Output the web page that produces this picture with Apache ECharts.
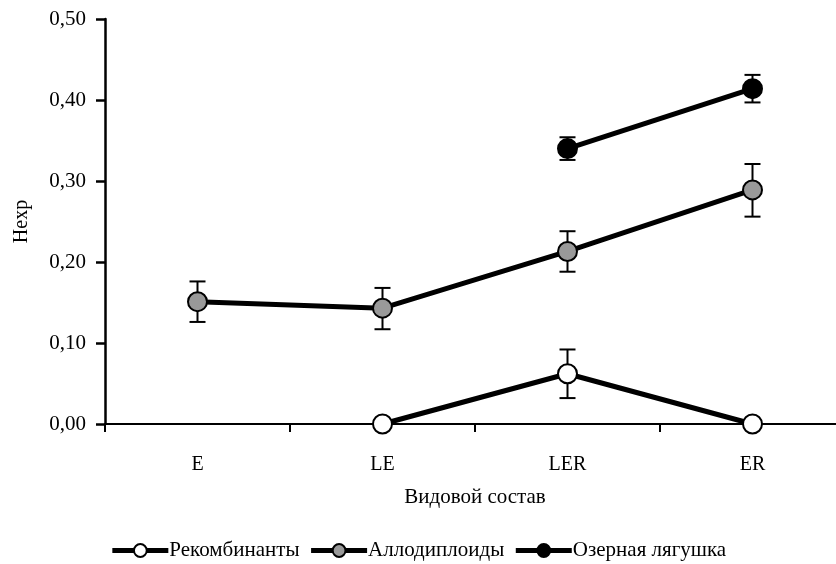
<!DOCTYPE html>
<html>
<head>
<meta charset="utf-8">
<script src="https://cdn.jsdelivr.net/npm/echarts@6/dist/echarts.min.js"></script>
<style>html,body{margin:0;padding:0;background:#fff;}#c{width:836px;height:564px;}</style>
</head>
<body>
<div id="c"></div>
<script>
var categories = ['E', 'LE', 'LER', 'ER'];
var yTicks = [0, 0.1, 0.2, 0.3, 0.4, 0.5];

var recombName = 'Рекомбинанты';
var recombMean = [null, 0.0, 0.062, 0.0];
var recombLow  = [null, null, 0.032, null];
var recombHigh = [null, null, 0.092, null];

var alloName = 'Аллодиплоиды';
var alloMean = [0.151, 0.143, 0.213, 0.289];
var alloLow  = [0.126, 0.117, 0.188, 0.256];
var alloHigh = [0.176, 0.168, 0.238, 0.321];

var lakeName = 'Озерная лягушка';
var lakeMean = [null, null, 0.340, 0.414];
var lakeLow  = [null, null, 0.326, 0.397];
var lakeHigh = [null, null, 0.354, 0.431];

var FONT = 'Liberation Serif';

function errData(low, high) {
  var out = [];
  for (var i = 0; i < low.length; i++) {
    if (low[i] != null && high[i] != null) out.push([i, low[i], high[i]]);
  }
  return out;
}
function errRender(params, api) {
  var x = api.value(0);
  var lo = api.coord([x, api.value(1)]);
  var hi = api.coord([x, api.value(2)]);
  var w = 8;
  var st = { stroke: '#000', lineWidth: 2 };
  return {
    type: 'group',
    children: [
      { type: 'line', shape: { x1: lo[0], y1: lo[1], x2: hi[0], y2: hi[1] }, style: st },
      { type: 'line', shape: { x1: lo[0] - w, y1: lo[1], x2: lo[0] + w, y2: lo[1] }, style: st },
      { type: 'line', shape: { x1: hi[0] - w, y1: hi[1], x2: hi[0] + w, y2: hi[1] }, style: st }
    ]
  };
}
function lineSeries(name, data, fill) {
  return {
    name: name, type: 'line', data: data, z: 3,
    symbol: 'circle', symbolSize: 19,
    connectNulls: false,
    lineStyle: { color: '#000', width: 5 },
    itemStyle: { color: fill, borderColor: '#000', borderWidth: 2 },
    emphasis: { disabled: true },
    animation: false
  };
}
function errSeries(low, high) {
  return {
    type: 'custom', renderItem: errRender, data: errData(low, high),
    z: 2, silent: true, animation: false, tooltip: { show: false }
  };
}

var chart = echarts.init(document.getElementById('c'));
chart.setOption({
  backgroundColor: '#fff',
  animation: false,
  grid: { left: 105, right: -9, top: 19, height: 405, containLabel: false, outerBoundsMode: 'none' },
  legend: {
    top: 535, left: 'center',
    itemWidth: 56, itemHeight: 16, itemGap: 9,
    lineStyle: { width: 5, color: '#000' },
    textStyle: { fontFamily: FONT, fontSize: 21, color: '#000', padding: [0, 0, 0, -4] },
    data: [recombName, alloName, lakeName]
  },
  xAxis: {
    type: 'category', data: categories, boundaryGap: true,
    name: 'Видовой состав', nameLocation: 'middle', nameGap: 63,
    nameTextStyle: { fontFamily: FONT, fontSize: 21, color: '#000' },
    axisLine: { lineStyle: { color: '#000', width: 2 } },
    axisTick: { show: true, inside: false, length: 8, lineStyle: { color: '#000', width: 2 } },
    axisLabel: { fontFamily: FONT, fontSize: 20, color: '#000', margin: 31 },
    splitLine: { show: false }
  },
  yAxis: {
    type: 'value', min: 0, max: 0.5, interval: 0.1,
    name: 'Hexp', nameLocation: 'middle', nameGap: 73, nameRotate: 90,
    nameTextStyle: { fontFamily: FONT, fontSize: 20, color: '#000' },
    axisLine: { show: true, lineStyle: { color: '#000', width: 2.5 } },
    axisTick: { show: true, length: 9, lineStyle: { color: '#000', width: 2.5 } },
    axisLabel: {
      fontFamily: FONT, fontSize: 21, color: '#000', margin: 19,
      formatter: function (v) { return v.toFixed(2).replace('.', ','); }
    },
    splitLine: { show: false }
  },
  series: [
    errSeries(recombLow, recombHigh),
    errSeries(alloLow, alloHigh),
    errSeries(lakeLow, lakeHigh),
    lineSeries(recombName, recombMean, '#fff'),
    lineSeries(alloName, alloMean, '#999999'),
    lineSeries(lakeName, lakeMean, '#000')
  ]
});
</script>
</body>
</html>
